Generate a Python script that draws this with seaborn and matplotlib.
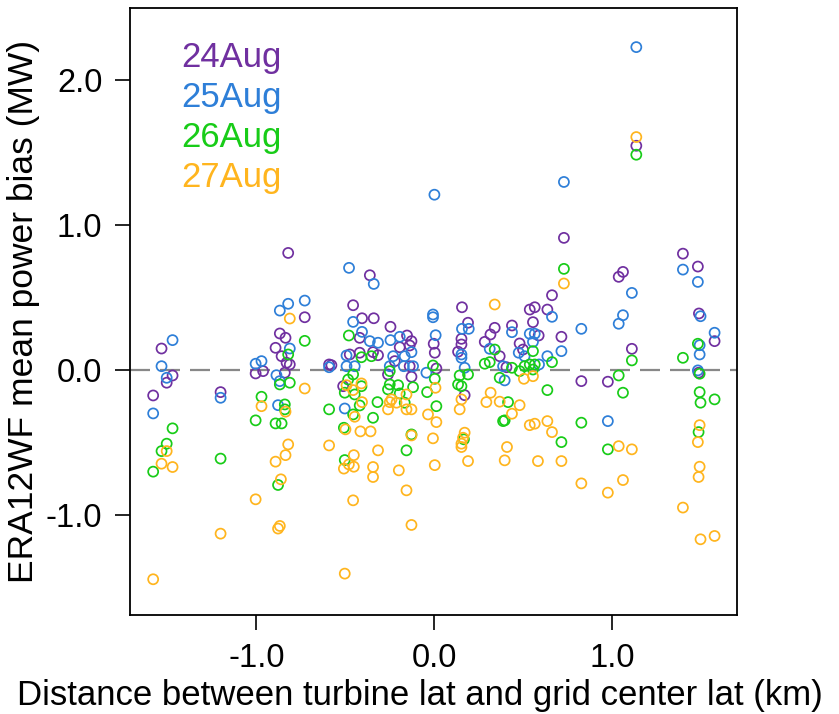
import matplotlib
matplotlib.use("Agg")
import matplotlib.pyplot as plt
import pandas as pd
import seaborn as sns

# 24Aug
x_24 = [-1.533, -1.471, -1.504, -1.580, -1.201, -0.821, -0.728, -0.868, -0.836, -0.892,
        -0.858, -0.830, -0.812, -0.962, -1.004, -0.840, -0.591, -0.362, -0.456, -0.406,
        -0.340, -0.246, -0.419, -0.153, -0.128, -0.194, -0.138, -0.475, -0.419, -0.344,
        -0.316, -0.222, -0.138, -0.578, -0.260, -0.128, -0.512, 0.156, 0.190, 0.340,
        0.316, 0.284, -0.003, 0.153, 0.153, 0.003, 0.134, 0.368, 0.012, 0.171,
        0.729, 0.662, 0.537, 0.565, 0.636, 0.555, 0.437, 0.587, 0.715, 0.480,
        0.499, 0.406, 0.827, 1.398, 1.482, 1.061, 1.037, 1.488, 1.576, 1.111,
        1.486, 0.976, 1.136]
y_24 = [0.148, -0.038, -0.088, -0.176, -0.153, 0.808, 0.364, 0.252, 0.222, 0.153,
        0.095, 0.050, 0.038, -0.008, -0.024, -0.019, 0.038, 0.654, 0.447, 0.357,
        0.357, 0.298, 0.222, 0.238, 0.199, 0.157, 0.169, 0.107, 0.119, 0.123,
        0.102, 0.061, 0.026, 0.033, -0.031, -0.047, -0.112, 0.433, 0.326, 0.291,
        0.245, 0.194, 0.181, 0.215, 0.176, 0.119, 0.126, 0.095, 0.010, -0.174,
        0.912, 0.516, 0.417, 0.433, 0.417, 0.330, 0.307, 0.238, 0.229, 0.183,
        0.141, 0.019, -0.077, 0.803, 0.714, 0.677, 0.643, 0.390, 0.199, 0.146,
        -0.019, -0.081, 1.548]

# 25Aug
x_25 = [-1.471, -1.533, -1.504, -1.580, -1.201, -0.728, -0.821, -0.868, -0.812, -0.971,
        -1.004, -0.887, -0.868, -0.878, -0.591, -0.479, -0.340, -0.456, -0.406, -0.362,
        -0.316, -0.246, -0.194, -0.128, -0.493, -0.231, -0.166, -0.493, -0.447, -0.250,
        -0.171, -0.119, -0.503, -0.007, -0.007, 0.156, 0.194, 0.008, 0.312, 0.153,
        0.153, -0.044, 0.171, 0.662, 0.827, 0.437, 0.537, 0.565, 0.555, 0.715,
        0.475, 0.508, 0.636, 0.589, 0.387, 0.396, 1.398, 1.482, 1.111, 1.497,
        1.061, 1.037, 1.576, 1.492, 1.492, 1.482, 0.976, 1.136, 0.729, 0.001]
y_25 = [0.206, 0.026, -0.054, -0.300, -0.192, 0.479, 0.457, 0.410, 0.148, 0.061,
        0.043, -0.036, -0.077, -0.243, 0.019, 0.705, 0.594, 0.332, 0.263, 0.199,
        0.188, 0.206, 0.229, 0.123, 0.100, 0.095, 0.095, 0.026, 0.026, 0.026,
        0.026, 0.026, -0.266, 0.383, 0.364, 0.284, 0.284, 0.240, 0.146, 0.107,
        0.084, -0.019, 0.015, 0.367, 0.284, 0.261, 0.250, 0.250, 0.194, 0.130,
        0.119, 0.095, 0.095, 0.038, 0.026, -0.072, 0.693, 0.608, 0.532, 0.371,
        0.378, 0.319, 0.257, 0.171, 0.107, -0.003, -0.353, 2.229, 1.298, 1.210]

# 26Aug
x_26 = [-1.471, -1.504, -1.533, -1.580, -1.201, -0.728, -0.821, -0.868, -0.812, -0.971,
        -0.840, -0.840, -1.004, -0.892, -0.858, -0.878, -0.591, -0.480, -0.409, -0.353,
        -0.250, -0.456, -0.484, -0.409, -0.250, -0.203, -0.119, -0.260, -0.503, -0.447,
        -0.194, -0.419, -0.319, -0.166, -0.456, -0.344, -0.508, -0.128, -0.156, -0.503,
        0.312, 0.284, -0.007, 0.143, 0.190, 0.003, 0.368, 0.134, 0.153, -0.040,
        0.012, 0.387, 0.167, 0.340, 0.729, 0.555, 0.662, 0.565, 0.537, 0.508,
        0.437, 0.480, 0.555, 0.636, 0.415, 0.396, 0.827, 0.715, 1.482, 1.111,
        1.398, 1.492, 1.037, 1.061, 1.492, 1.497, 1.576, 1.486, 0.976, 1.136]
y_26 = [-0.403, -0.509, -0.560, -0.702, -0.612, 0.201, 0.107, -0.100, -0.088, -0.185,
        -0.238, -0.272, -0.348, -0.369, -0.369, -0.794, -0.272, 0.238, 0.088, 0.095,
        -0.008, -0.031, -0.066, -0.112, -0.100, -0.105, -0.119, -0.134, -0.157, -0.169,
        -0.162, -0.245, -0.222, -0.226, -0.307, -0.330, -0.399, -0.445, -0.555, -0.622,
        0.054, 0.043, 0.031, -0.038, -0.031, -0.061, -0.054, -0.100, -0.112, -0.153,
        -0.250, -0.353, -0.479, 0.141, 0.698, 0.130, 0.054, 0.038, 0.038, 0.026,
        0.015, -0.008, 0.003, -0.139, -0.222, -0.348, -0.364, -0.498, 0.181, 0.066,
        0.084, -0.026, -0.038, -0.157, -0.153, -0.226, -0.203, -0.429, -0.548, 1.486]

# 27Aug
x_27 = [-1.504, -1.533, -1.471, -1.580, -1.201, -0.812, -0.728, -0.971, -0.836, -0.821,
        -0.836, -0.892, -0.862, -1.004, -0.868, -0.878, -0.591, -0.493, -0.409, -0.456,
        -0.156, -0.240, -0.212, -0.250, -0.406, -0.260, -0.156, -0.128, -0.447, -0.499,
        -0.415, -0.358, -0.128, -0.316, -0.452, -0.480, -0.508, -0.452, -0.344, -0.344,
        -0.199, -0.156, -0.456, -0.128, -0.503, 0.340, 0.007, 0.317, 0.153, 0.293,
        0.368, 0.143, -0.035, 0.012, -0.007, 0.171, 0.162, 0.153, 0.153, 0.190,
        0.003, 0.409, 0.396, 0.729, 0.504, 0.555, 0.480, 0.437, 0.537, 0.565,
        0.636, 0.662, 0.583, 0.715, 0.827, 1.492, 1.482, 1.037, 1.111, 1.492,
        1.486, 1.061, 0.976, 1.398, 1.497, 1.576, 1.136]
y_27 = [-0.560, -0.647, -0.670, -1.445, -1.130, 0.355, -0.128, -0.250, -0.288, -0.514,
        -0.588, -0.633, -0.755, -0.893, -1.077, -1.095, -0.521, -0.105, -0.093, -0.139,
        -0.169, -0.203, -0.226, -0.222, -0.222, -0.272, -0.272, -0.272, -0.323, -0.410,
        -0.424, -0.424, -0.452, -0.555, -0.588, -0.652, -0.681, -0.668, -0.670, -0.739,
        -0.693, -0.831, -0.900, -1.070, -1.406, 0.452, -0.123, -0.157, -0.203, -0.222,
        -0.219, -0.272, -0.307, -0.360, -0.472, -0.433, -0.468, -0.509, -0.532, -0.629,
        -0.657, -0.532, -0.624, 0.597, -0.061, -0.043, -0.243, -0.302, -0.381, -0.371,
        -0.353, -0.429, -0.629, -0.629, -0.783, -0.381, -0.498, -0.526, -0.548, -0.668,
        -0.739, -0.760, -0.847, -0.950, -1.169, -1.146, 1.608]

days = ["24Aug", "25Aug", "26Aug", "27Aug"]
day_colors = ["#7030A0", "#2E7FD8", "#18CC18", "#FFB51E"]

df = pd.concat([
    pd.DataFrame({"dist": x, "bias": y, "day": d})
    for x, y, d in zip([x_24, x_25, x_26, x_27], [y_24, y_25, y_26, y_27], days)
], ignore_index=True)

sns.set_theme(style="ticks")
plt.rcParams["font.family"] = ["Liberation Sans", "DejaVu Sans"]

fig = plt.figure(figsize=(8.39, 7.14), dpi=100)
ax = fig.add_axes([0.155, 0.139, 0.723, 0.850])

sns.scatterplot(data=df, x="dist", y="bias", hue="day", palette=dict(zip(days, day_colors)),
                s=52, linewidth=1.25, legend=False, ax=ax)
# open circles
coll = ax.collections[0]
coll.set_edgecolors(coll.get_facecolors())
coll.set_facecolors("none")

ax.axhline(0, color="#888888", lw=1.6, ls=(0, (9, 4.5)), zorder=0)

ax.set_xlim(-1.71, 1.70)
ax.set_ylim(-1.69, 2.5)
ax.set_xticks([-1, 0, 1])
ax.set_xticklabels(["-1.0", "0.0", "1.0"])
ax.set_yticks([-1, 0, 1, 2])
ax.set_yticklabels(["-1.0", "0.0", "1.0", "2.0"])
ax.tick_params(direction="out", length=11, width=1.2, labelsize=23.5, colors="black", pad=9)
for sp in ax.spines.values():
    sp.set_visible(True)
    sp.set_linewidth(1.3)
    sp.set_color("black")

ax.set_xlabel("Distance between turbine lat and grid center lat (km)", fontsize=25, color="black")
ax.xaxis.set_label_coords(0.478, -0.106)
ax.set_ylabel("ERA12WF mean power bias (MW)", fontsize=25.5, labelpad=4, color="black")

for i, (d, c) in enumerate(zip(days, day_colors)):
    ax.text(0.085, 0.918 - i * 0.066, d, color=c, fontsize=25, transform=ax.transAxes,
            ha="left", va="center")

fig.savefig("out.png", dpi=100)
